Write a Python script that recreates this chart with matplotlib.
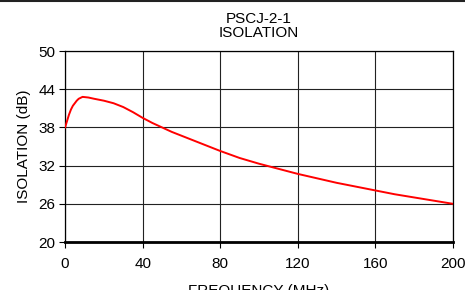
import matplotlib
matplotlib.use('Agg')
import matplotlib.pyplot as plt

plt.rcParams['font.family'] = ['Liberation Sans', 'DejaVu Sans']

# frequency (MHz) and isolation (dB)
freq = [0, 1, 2, 3, 4, 5, 6, 7, 9, 12, 15, 20, 25, 30, 35, 40, 45, 50, 55, 60,
        70, 80, 90, 100, 110, 120, 130, 140, 150, 160, 170, 180, 190, 200]
isolation = [38.0, 39.0, 40.0, 40.8, 41.4, 41.8, 42.2, 42.5, 42.8, 42.7, 42.5, 42.2,
             41.8, 41.2, 40.4, 39.5, 38.7, 38.0, 37.3, 36.7, 35.5, 34.3, 33.2, 32.3,
             31.5, 30.7, 30.0, 29.3, 28.7, 28.1, 27.5, 27.0, 26.5, 26.0]

xticks = [0, 40, 80, 120, 160, 200]
yticks = [20, 26, 32, 38, 44, 50]

fig = plt.figure(figsize=(4.65, 2.9), dpi=100)
ax = fig.add_axes([0.14, 0.1655, 0.834, 0.6585])

ax.plot(freq, isolation, color='#ff0000', lw=1.4, zorder=3)

ax.set_xlim(0, 200)
ax.set_ylim(20, 50)
ax.set_xticks(xticks)
ax.set_yticks(yticks)
ax.grid(True, color='#222222', lw=0.8)
ax.tick_params(direction='out', length=4, width=0.8, labelsize=11, pad=3)
ax.tick_params(axis='x', pad=7)
for s in ['left', 'right', 'top']:
    ax.spines[s].set_linewidth(0.9)
ax.spines['bottom'].set_linewidth(2)

ax.set_xlabel('FREQUENCY (MHz)', fontsize=11, labelpad=9)
ax.set_ylabel('ISOLATION (dB)', fontsize=11, labelpad=5)
ax.set_title('PSCJ-2-1\nISOLATION', fontsize=11, linespacing=1.05, pad=10)

# dark border line at the very top of the image
fig.add_artist(plt.Line2D([0, 1], [0.998, 0.998], color='#222222', lw=1.5,
                          transform=fig.transFigure))

fig.savefig('out.png', dpi=100)
